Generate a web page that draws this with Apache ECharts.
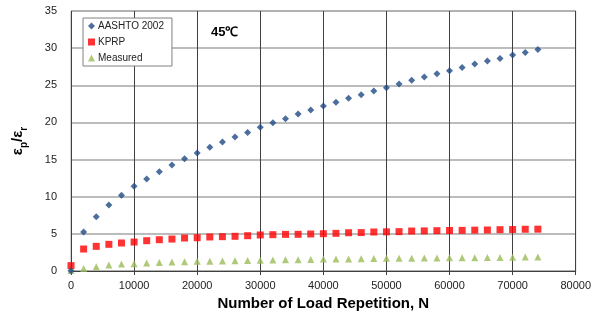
<!DOCTYPE html>
<html><head><meta charset="utf-8">
<script src="https://cdn.jsdelivr.net/npm/echarts@6/dist/echarts.min.js"></script>
<style>html,body{margin:0;padding:0;background:#fff}#c{width:594px;height:327px}</style>
</head><body><div id="c"></div>
<script>
const loadReps = [0,2000,4000,6000,8000,10000,12000,14000,16000,18000,20000,22000,24000,26000,28000,30000,32000,34000,36000,38000,40000,42000,44000,46000,48000,50000,52000,54000,56000,58000,60000,62000,64000,66000,68000,70000,72000,74000];
const aashto = [0.05,5.25,7.3,8.9,10.2,11.4,12.4,13.37,14.27,15.1,15.9,16.65,17.36,18.03,18.66,19.34,19.96,20.5,21.13,21.67,22.2,22.7,23.24,23.73,24.23,24.67,25.17,25.67,26.1,26.55,26.96,27.4,27.86,28.26,28.62,29.07,29.43,29.83];
const kprp = [0.72,2.96,3.32,3.59,3.77,3.9,4.08,4.21,4.3,4.44,4.48,4.58,4.62,4.67,4.75,4.85,4.89,4.93,4.94,4.98,5.02,5.07,5.15,5.17,5.25,5.27,5.3,5.38,5.4,5.43,5.45,5.47,5.5,5.52,5.56,5.58,5.62,5.63];
const measured = [0.08,0.32,0.58,0.8,0.94,0.99,1.08,1.13,1.21,1.26,1.3,1.32,1.35,1.39,1.43,1.45,1.48,1.5,1.52,1.54,1.6,1.61,1.63,1.65,1.67,1.7,1.72,1.73,1.74,1.75,1.77,1.78,1.8,1.81,1.82,1.84,1.87,1.88];
const seriesNames = ['AASHTO 2002','KPRP','Measured'];
const xTicks = {min:0, max:80000, interval:10000};
const yTicks = {min:0, max:35, interval:5};

const pairs = arr => loadReps.map((x,i)=>[x,arr[i]]);
const font = 'Liberation Sans, Arial, sans-serif';
const chart = echarts.init(document.getElementById('c'), null, {renderer:'canvas'});
chart.setOption({
  animation:false,
  grid:{left:71,right:18,top:11,bottom:56,show:true,borderColor:'#a6a6a6',borderWidth:1},
  legend:{
    left:83,top:18,orient:'vertical',itemGap:6,itemWidth:7,itemHeight:7,
    borderColor:'#808080',borderWidth:1,padding:[3,8,3,5],backgroundColor:'#fff',
    textStyle:{fontFamily:font,fontSize:10,color:'#222',padding:[0,0,0,-2]},
    data:seriesNames
  },
  graphic:[{type:'text',left:211,top:26,style:{text:'45℃',font:'bold 13px '+font,fill:'#000'}}],
  xAxis:{
    type:'value',min:xTicks.min,max:xTicks.max,interval:xTicks.interval,
    name:'Number of Load Repetition, N',nameLocation:'middle',nameGap:24,
    nameTextStyle:{fontFamily:font,fontSize:15,fontWeight:'bold',color:'#000'},
    axisLine:{show:true,lineStyle:{color:'#404040'}},
    axisTick:{show:true,length:4,lineStyle:{color:'#404040'}},
    axisLabel:{fontFamily:font,fontSize:11,color:'#222',margin:9,formatter:v=>String(v)},
    splitLine:{show:true,lineStyle:{color:'#404040',width:1}}
  },
  yAxis:{
    type:'value',min:yTicks.min,max:yTicks.max,interval:yTicks.interval,
    name:'{a|ε}{s|p}{a|/ε}{s|r}',nameLocation:'middle',nameGap:46,
    nameTextStyle:{rich:{
      a:{fontFamily:font,fontSize:15,fontWeight:'bold',color:'#000',verticalAlign:'bottom'},
      s:{fontFamily:font,fontSize:10,fontWeight:'bold',color:'#000',verticalAlign:'bottom',padding:[0,0,-4,0]}
    }},
    axisLine:{show:false},axisTick:{show:false},
    axisLabel:{fontFamily:font,fontSize:11,color:'#222',margin:14},
    splitLine:{show:true,lineStyle:{color:'#a6a6a6',width:1.5}}
  },
  series:[
    {name:seriesNames[0],type:'scatter',symbol:'diamond',symbolSize:7,itemStyle:{color:'#1f4a85'},data:pairs(aashto),z:4},
    {name:seriesNames[1],type:'scatter',symbol:'rect',symbolSize:7,itemStyle:{color:'#ff0000'},data:pairs(kprp),z:3},
    {name:seriesNames[2],type:'scatter',symbol:'triangle',symbolSize:7,itemStyle:{color:'#9bbb59'},data:pairs(measured),z:2}
  ]
});
</script></body></html>
